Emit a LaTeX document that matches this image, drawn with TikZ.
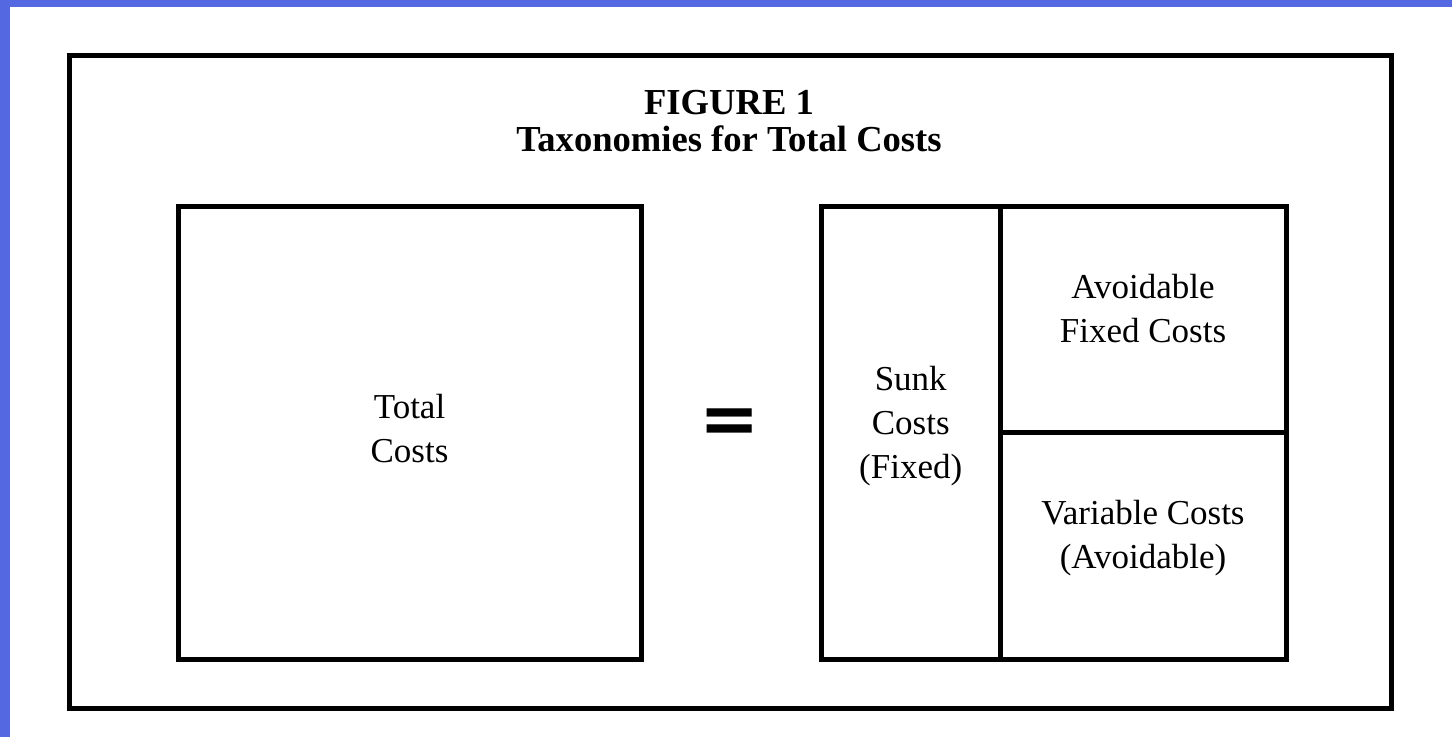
\documentclass[tikz,border=0pt]{standalone}
\usepackage{fontspec}
\setmainfont{Liberation Serif}
\newfontfamily\eqfont{DejaVu Sans}
\usetikzlibrary{positioning}

\begin{document}
\begin{tikzpicture}[x=0.5pt,y=-0.5pt,
	box/.style={rectangle,draw,line width=2.5pt,inner sep=0pt,outer sep=0pt},
	txt/.style={align=center,font=\fontsize{17.5}{22}\selectfont},
	title/.style={anchor=base,font=\bfseries\fontsize{18.3}{19}\selectfont}]
	
	\definecolor{slideblue}{RGB}{84,104,226}
	
	\useasboundingbox (0,0) rectangle (1452,737);
	\fill[slideblue] (0,0) rectangle (10,737);
	\fill[slideblue] (0,0) rectangle (1452,7);
	
	\node[box,minimum width=661pt,minimum height=326.5pt] (frame) at (730.5,382) {};
	\node[title] (fig) at (729,115) {FIGURE 1};
	\node[title] (taxo) at ([yshift=-18.5pt]fig.base) {Taxonomies for Total Costs};
	
	\node[box,minimum width=231.5pt,minimum height=226.25pt] (total) at (409.5,433.25) {};
	\node[box,minimum width=89.25pt,minimum height=226.25pt] (sunk) at (910.75,433.25) {};
	\node[box,minimum width=143pt,minimum height=113pt,anchor=north west] (avoid) at (sunk.north east) {};
	\node[box,minimum width=143pt,minimum height=113.25pt,below=0pt of avoid] (var) {};
	
	\node[font=\eqfont\bfseries\fontsize{36}{36}\selectfont] (eq) at (730,426) {=};
	
	\node[txt] (totaltxt) at ([yshift=2.5pt]total.center) {Total\\Costs};
	\node[txt] (sunktxt) at ([yshift=3.5pt]sunk.center) {Sunk\\Costs\\(Fixed)};
	\node[txt] (avoidtxt) at ([yshift=5.75pt]avoid.center) {Avoidable\\Fixed Costs};
	\node[txt] (vartxt) at ([yshift=4pt]var.center) {Variable Costs\\(Avoidable)};
\end{tikzpicture}
\end{document}
